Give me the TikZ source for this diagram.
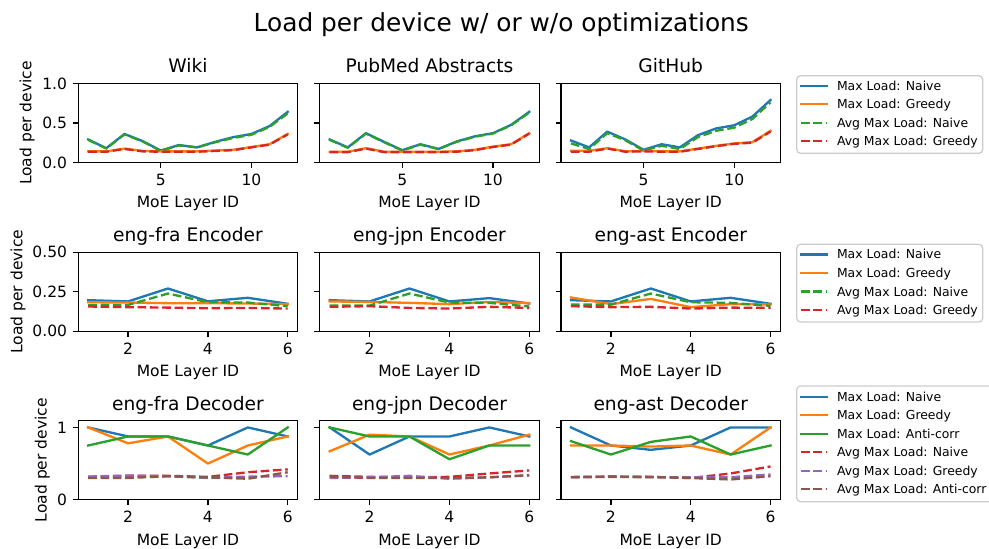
\documentclass[tikz,border=0pt]{standalone}
\usepackage{fontspec}
\setmainfont{DejaVu Sans}
\definecolor{c0}{HTML}{1F77B4}
\definecolor{c1}{HTML}{FF7F0E}
\definecolor{c2}{HTML}{2CA02C}
\definecolor{c3}{HTML}{D62728}
\definecolor{c4}{HTML}{9467BD}
\definecolor{c5}{HTML}{8C564B}
\definecolor{legedge}{HTML}{CCCCCC}

% axes geometry (in pixel units)
\newcommand\PW{219.5}
\newcommand\PH{79}
\newcommand\pxpt{0.6443}
\newcounter{lbl}

\tikzset{
  spine/.style={line width=0.8pt, black},
  tickline/.style={line width=0.8pt, black},
  solidline/.style={line width=1.5pt, line join=round, line cap=rect},
  dashline/.style={line width=1.5pt, line join=round, dash pattern=on 5.55pt off 2.4pt},
  ticklab/.style={font=\fontsize{10}{12}\selectfont, inner sep=0pt},
  axtitle/.style={font=\fontsize{12}{14}\selectfont, inner sep=0pt},
  suptitle/.style={font=\fontsize{16}{19}\selectfont, inner sep=0pt},
  legtext/.style={font=\fontsize{8}{10}\selectfont, inner sep=0pt},
  legbox/.style={draw=legedge, fill=white, line width=0.8pt, rounded corners=2.5pt},
}

% open an axes box: left px, top px, xmin, xmax, ymax
\newcommand\panelbegin[5]{%
  \pgfmathsetmacro\pxu{\PW*\pxpt/(#4-(#3))}%
  \pgfmathsetmacro\pyu{\PH*\pxpt/#5}%
  \pgfmathsetmacro\pxmid{(#3+#4)/2}%
  \def\pxmin{#3}\def\pxmax{#4}\def\pymax{#5}%
  \begin{scope}[shift={(#1,#2+\PH)}, x={\pxu pt}, y={\pyu pt}, shift={(-#3,0)}]%
}
\newcommand\panelend{%
  \draw[spine] (\pxmin,0) rectangle (\pxmax,\pymax);
  \end{scope}}
% x tick with label
\newcommand\xtk[2]{%
  \stepcounter{lbl}%
  \draw[tickline] (#1,0) -- ([yshift=-3.5pt]#1,0);
  \node[ticklab, anchor=base] (xt\thelbl) at ([yshift=-15pt]#1,0) {#2};}
% y tick, and y tick with label
\newcommand\ytk[1]{\draw[tickline] (\pxmin,#1) -- ([xshift=-3.5pt]\pxmin,#1);}
\newcommand\ytkl[2]{%
  \stepcounter{lbl}%
  \ytk{#1}
  \node[ticklab, anchor=east] (yt\thelbl) at ([xshift=-7pt]\pxmin,#1) {#2};}
% axes title and x label
\newcommand\axtitle[1]{%
  \stepcounter{lbl}%
  \node[axtitle, anchor=base] (ti\thelbl) at ([yshift=6.8pt]\pxmid,\pymax) {#1};}
\newcommand\xlab{%
  \stepcounter{lbl}%
  \node[ticklab, anchor=base] (xl\thelbl) at ([yshift=-29.2pt]\pxmid,0) {MoE Layer ID};}
% one data series
\newcommand\series[2]{\draw[#1] plot coordinates {#2};}
% one legend row: y px, style, text
\newcommand\legentry[3]{%
  \stepcounter{lbl}%
  \draw[#2] (801,#1) -- (827.3,#1);
  \node[legtext, anchor=base west] (lg\thelbl) at (836.7,#1+4.5) {#3};}

\begin{document}
\begin{tikzpicture}[x=0.6443pt, y=-0.6443pt]
\useasboundingbox (0,0) rectangle (989,548);
\clip (0,0) rectangle (989,548);

\node[suptitle, anchor=base] (sup) at (501.3,31.5) {Load per device w/ or w/o optimizations};

% y axis labels
\node[ticklab, rotate=90, anchor=base] (yl1) at (31.4,123) {Load per device};
\node[ticklab, rotate=90, anchor=base] (yl2) at (22.4,291.8) {Load per device};
\node[ticklab, rotate=90, anchor=base] (yl3) at (46.7,460.2) {Load per device};

% ---------------- row 1 ----------------
\panelbegin{78.2}{83.4}{0.45}{12.55}{1}
\series{solidline,c0}{(1,.29)(2,.18)(3,.36)(4,.27)(5,.15)(6,.22)(7,.19)(8,.26)(9,.32)(10,.36)(11,.46)(12,.64)}
\series{solidline,c1}{(1,.14)(2,.14)(3,.175)(4,.145)(5,.14)(6,.14)(7,.14)(8,.15)(9,.16)(10,.195)(11,.23)(12,.36)}
\series{dashline,c2}{(1,.285)(2,.175)(3,.355)(4,.265)(5,.145)(6,.215)(7,.19)(8,.255)(9,.31)(10,.35)(11,.45)(12,.62)}
\series{dashline,c3}{(1,.135)(2,.135)(3,.17)(4,.14)(5,.135)(6,.135)(7,.135)(8,.145)(9,.155)(10,.19)(11,.225)(12,.355)}
\xtk{5}{5}\xtk{10}{10}
\ytkl{0}{0.0}\ytkl{0.5}{0.5}\ytkl{1}{1.0}
\axtitle{Wiki}\xlab
\panelend

\panelbegin{319.7}{83.4}{0.45}{12.55}{1}
\series{solidline,c0}{(1,.29)(2,.19)(3,.37)(4,.26)(5,.155)(6,.23)(7,.17)(8,.265)(9,.33)(10,.37)(11,.475)(12,.64)}
\series{solidline,c1}{(1,.135)(2,.135)(3,.18)(4,.135)(5,.135)(6,.135)(7,.135)(8,.14)(9,.16)(10,.2)(11,.23)(12,.37)}
\series{dashline,c2}{(1,.285)(2,.185)(3,.365)(4,.255)(5,.15)(6,.225)(7,.17)(8,.26)(9,.325)(10,.365)(11,.47)(12,.63)}
\series{dashline,c3}{(1,.13)(2,.13)(3,.175)(4,.13)(5,.13)(6,.13)(7,.13)(8,.135)(9,.155)(10,.195)(11,.225)(12,.365)}
\xtk{5}{5}\xtk{10}{10}
\ytk{0}\ytk{0.5}\ytk{1}
\axtitle{PubMed Abstracts}\xlab
\panelend

\panelbegin{561}{83.4}{0.45}{12.55}{1}
\series{solidline,c0}{(1,.277)(2,.19)(3,.39)(4,.29)(5,.16)(6,.23)(7,.19)(8,.345)(9,.43)(10,.47)(11,.58)(12,.79)}
\series{solidline,c1}{(1,.147)(2,.147)(3,.18)(4,.14)(5,.147)(6,.14)(7,.14)(8,.175)(9,.21)(10,.24)(11,.256)(12,.40)}
\series{dashline,c2}{(1,.24)(2,.17)(3,.37)(4,.28)(5,.15)(6,.21)(7,.17)(8,.32)(9,.40)(10,.44)(11,.55)(12,.76)}
\series{dashline,c3}{(1,.135)(2,.135)(3,.175)(4,.135)(5,.14)(6,.135)(7,.135)(8,.17)(9,.205)(10,.235)(11,.25)(12,.39)}
\xtk{5}{5}\xtk{10}{10}
\ytk{0}\ytk{0.5}\ytk{1}
\axtitle{GitHub}\xlab
\panelend

% ---------------- row 2 ----------------
\panelbegin{78.2}{252.3}{0.75}{6.25}{0.5}
\series{solidline,c0}{(1,.197)(2,.189)(3,.271)(4,.19)(5,.212)(6,.174)}
\series{solidline,c1}{(1,.184)(2,.182)(3,.178)(4,.178)(5,.176)(6,.172)}
\series{dashline,c2}{(1,.167)(2,.167)(3,.239)(4,.184)(5,.182)(6,.159)}
\series{dashline,c3}{(1,.157)(2,.153)(3,.15)(4,.146)(5,.148)(6,.144)}
\xtk{2}{2}\xtk{4}{4}\xtk{6}{6}
\ytkl{0}{0.00}\ytkl{0.25}{0.25}\ytkl{0.5}{0.50}
\axtitle{eng-fra Encoder}\xlab
\panelend

\panelbegin{319.7}{252.3}{0.75}{6.25}{0.5}
\series{solidline,c0}{(1,.197)(2,.189)(3,.271)(4,.189)(5,.21)(6,.176)}
\series{solidline,c1}{(1,.189)(2,.186)(3,.18)(4,.172)(5,.186)(6,.178)}
\series{dashline,c2}{(1,.163)(2,.163)(3,.239)(4,.182)(5,.18)(6,.157)}
\series{dashline,c3}{(1,.155)(2,.159)(3,.148)(4,.144)(5,.155)(6,.148)}
\xtk{2}{2}\xtk{4}{4}\xtk{6}{6}
\ytk{0}\ytk{0.25}\ytk{0.5}
\axtitle{eng-jpn Encoder}\xlab
\panelend

\panelbegin{561}{252.3}{0.75}{6.25}{0.5}
\series{solidline,c0}{(1,.197)(2,.189)(3,.271)(4,.189)(5,.212)(6,.174)}
\series{solidline,c1}{(1,.214)(2,.172)(3,.205)(4,.153)(5,.172)(6,.17)}
\series{dashline,c2}{(1,.169)(2,.169)(3,.239)(4,.184)(5,.18)(6,.161)}
\series{dashline,c3}{(1,.159)(2,.153)(3,.155)(4,.144)(5,.15)(6,.148)}
\xtk{2}{2}\xtk{4}{4}\xtk{6}{6}
\ytk{0}\ytk{0.25}\ytk{0.5}
\axtitle{eng-ast Encoder}\xlab
\panelend

% ---------------- row 3 ----------------
\panelbegin{78.2}{420.7}{0.75}{6.25}{1.093}
\series{solidline,c0}{(1,1)(2,.875)(3,.875)(4,.75)(5,1)(6,.875)}
\series{solidline,c1}{(1,1)(2,.78)(3,.875)(4,.5)(5,.75)(6,.875)}
\series{solidline,c2}{(1,.75)(2,.875)(3,.875)(4,.75)(5,.625)(6,1)}
\series{dashline,c3}{(1,.316)(2,.33)(3,.33)(4,.316)(5,.38)(6,.42)}
\series{dashline,c4}{(1,.32)(2,.335)(3,.325)(4,.30)(5,.32)(6,.325)}
\series{dashline,c5}{(1,.30)(2,.30)(3,.325)(4,.31)(5,.29)(6,.38)}
\xtk{2}{2}\xtk{4}{4}\xtk{6}{6}
\ytkl{0}{0}\ytkl{1}{1}
\axtitle{eng-fra Decoder}\xlab
\panelend

\panelbegin{319.7}{420.7}{0.75}{6.25}{1.093}
\series{solidline,c0}{(1,1)(2,.625)(3,.875)(4,.875)(5,1)(6,.875)}
\series{solidline,c1}{(1,.67)(2,.9)(3,.875)(4,.625)(5,.75)(6,.9)}
\series{solidline,c2}{(1,1)(2,.875)(3,.875)(4,.56)(5,.75)(6,.75)}
\series{dashline,c3}{(1,.33)(2,.316)(3,.31)(4,.316)(5,.363)(6,.405)}
\series{dashline,c4}{(1,.30)(2,.31)(3,.33)(4,.29)(5,.31)(6,.335)}
\series{dashline,c5}{(1,.32)(2,.30)(3,.30)(4,.30)(5,.31)(6,.34)}
\xtk{2}{2}\xtk{4}{4}\xtk{6}{6}
\ytk{0}\ytk{1}
\axtitle{eng-jpn Decoder}\xlab
\panelend

\panelbegin{561}{420.7}{0.75}{6.25}{1.093}
\series{solidline,c0}{(1,1)(2,.75)(3,.69)(4,.75)(5,1)(6,1)}
\series{solidline,c1}{(1,.75)(2,.75)(3,.735)(4,.75)(5,.625)(6,1)}
\series{solidline,c2}{(1,.81)(2,.625)(3,.8)(4,.875)(5,.625)(6,.75)}
\series{dashline,c3}{(1,.31)(2,.32)(3,.316)(4,.30)(5,.363)(6,.46)}
\series{dashline,c4}{(1,.31)(2,.316)(3,.31)(4,.31)(5,.31)(6,.35)}
\series{dashline,c5}{(1,.315)(2,.32)(3,.315)(4,.30)(5,.28)(6,.325)}
\xtk{2}{2}\xtk{4}{4}\xtk{6}{6}
\ytk{0}\ytk{1}
\axtitle{eng-ast Decoder}\xlab
\panelend

% ---------------- legends ----------------
\draw[legbox] (796.7,75.7) rectangle (982.7,153.3);
\legentry{85.7}{solidline,c0}{Max Load: Naive}
\legentry{104.3}{solidline,c1}{Max Load: Greedy}
\legentry{122.8}{dashline,c2}{Avg Max Load: Naive}
\legentry{141.3}{dashline,c3}{Avg Max Load: Greedy}

\draw[legbox] (796.7,244.3) rectangle (982.7,322);
\legentry{254.4}{solidline,c0}{Max Load: Naive}
\legentry{272.9}{solidline,c1}{Max Load: Greedy}
\legentry{291.5}{dashline,c2}{Avg Max Load: Naive}
\legentry{310.0}{dashline,c3}{Avg Max Load: Greedy}

\draw[legbox] (796.7,385.9) rectangle (995,501.7);
\legentry{396.7}{solidline,c0}{Max Load: Naive}
\legentry{415.2}{solidline,c1}{Max Load: Greedy}
\legentry{433.7}{solidline,c2}{Max Load: Anti-corr}
\legentry{452.2}{dashline,c3}{Avg Max Load: Naive}
\legentry{470.7}{dashline,c4}{Avg Max Load: Greedy}
\legentry{489.2}{dashline,c5}{Avg Max Load: Anti-corr}
\end{tikzpicture}
\end{document}
